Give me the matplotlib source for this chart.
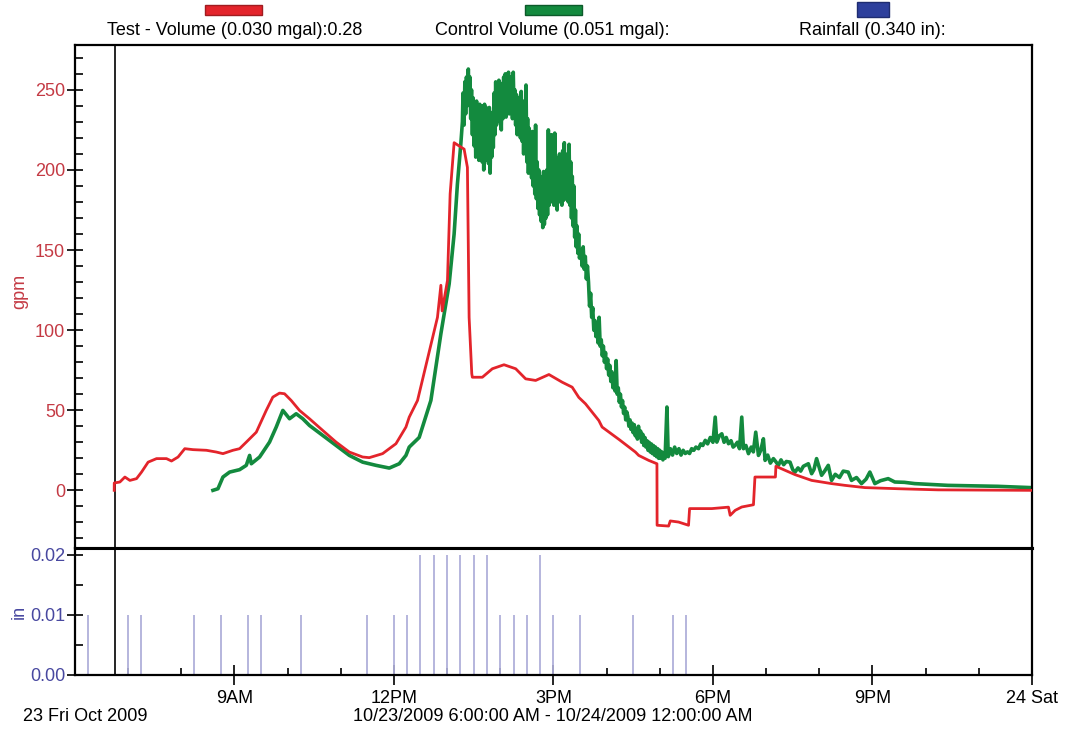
import numpy as np
import matplotlib
matplotlib.use("Agg")
import matplotlib.pyplot as plt
from matplotlib.patches import Rectangle
from matplotlib.ticker import MultipleLocator

plt.rcParams['font.family'] = ['Liberation Sans', 'DejaVu Sans']

# time in hours on 10/23/2009 (6 = 6AM, 24 = midnight)
test_t = [6.741, 6.742, 6.848, 6.942, 7.036, 7.161, 7.255, 7.379, 7.537, 7.724, 7.818, 7.942,
          8.068, 8.223, 8.475, 8.662, 8.786, 8.974, 9.099, 9.225, 9.413, 9.600, 9.724, 9.850,
          9.944, 10.069, 10.225, 10.413, 10.662, 10.914, 11.163, 11.413, 11.538, 11.788, 12.039,
          12.227, 12.289, 12.445, 12.820, 12.884, 12.908, 13.008, 13.058, 13.133, 13.227, 13.321,
          13.383, 13.415, 13.465, 13.476, 13.664, 13.852, 14.071, 14.291, 14.478, 14.666, 14.916,
          15.165, 15.353, 15.478, 15.604, 15.854, 15.916, 16.236, 16.542, 16.604, 16.792, 16.947,
          16.950, 17.166, 17.198, 17.354, 17.541, 17.561, 17.979, 18.292, 18.324, 18.418, 18.542,
          18.762, 18.790, 19.175, 19.184, 19.544, 19.856, 20.231, 20.483, 20.858, 21.483, 22.233,
          23.978]
test_v = [0.0, 4.6, 5.2, 8.3, 6.2, 7.3, 11.4, 17.6, 19.8, 19.8, 18.3, 20.8,
          26.0, 25.4, 25.0, 23.9, 22.9, 25.0, 26.0, 30.1, 36.3, 49.9, 58.2, 60.7,
          60.3, 56.1, 49.9, 44.7, 37.4, 30.1, 23.9, 20.8, 20.4, 22.9, 29.1,
          39.5, 45.7, 56.1, 108.0, 128.0, 112.0, 131.0, 185.0, 217.0, 215.0, 213.0,
          201.6, 108.0, 72.8, 70.6, 70.6, 75.9, 78.4, 75.9, 69.6, 68.6, 72.3,
          67.5, 64.4, 58.0, 54.0, 43.6, 39.5, 31.7, 23.9, 21.8, 18.7, 16.6,
          -21.8, -22.3, -19.1, -19.8, -21.8, -11.4, -11.4, -10.5, -15.6, -12.5, -10.4,
          -9.0, 8.3, 8.3, 15.0, 9.8, 6.2, 4.2, 3.1, 1.7, 1.0, 0.3,
          0.0]

control_t = [8.598, 8.692, 8.786, 8.912, 9.099, 9.225, 9.287, 9.319, 9.475, 9.662, 9.788, 9.912,
             10.038, 10.163, 10.287, 10.413, 10.662, 10.914, 11.163, 11.413, 11.664, 11.914,
             12.101, 12.227, 12.289, 12.476, 12.696, 12.884, 13.040, 13.133, 13.195, 13.259,
             13.289, 13.30, 13.32, 13.335, 13.35, 13.365, 13.38, 13.40, 13.415, 13.43, 13.445,
             13.46, 13.477, 13.49, 13.51, 13.525, 13.54, 13.555, 13.57, 13.585, 13.60, 13.615,
             13.63, 13.645, 13.66, 13.675, 13.69, 13.705, 13.72, 13.735, 13.75, 13.765, 13.78,
             13.795, 13.81, 13.825, 13.84, 13.855, 13.87, 13.885, 13.90, 13.915, 13.93, 13.945,
             13.96, 13.975, 13.99, 14.005, 14.02, 14.035, 14.05, 14.065, 14.08, 14.095, 14.11,
             14.125, 14.14, 14.155, 14.17, 14.185, 14.20, 14.215, 14.23, 14.245, 14.26, 14.275,
             14.29, 14.305, 14.32, 14.335, 14.35, 14.365, 14.38, 14.395, 14.41, 14.425, 14.44,
             14.455, 14.47, 14.485, 14.50, 14.515, 14.53, 14.545, 14.56, 14.575, 14.59, 14.605,
             14.62, 14.635, 14.65, 14.665, 14.68, 14.695, 14.71, 14.725, 14.74, 14.755, 14.77,
             14.785, 14.80, 14.815, 14.83, 14.845, 14.86, 14.875, 14.89, 14.905, 14.92, 14.935,
             14.95, 14.965, 14.98, 14.995, 15.01, 15.025, 15.04, 15.055, 15.07, 15.085, 15.10,
             15.115, 15.13, 15.145, 15.16, 15.175, 15.19, 15.205, 15.22, 15.235, 15.25, 15.265,
             15.28, 15.295, 15.31, 15.325, 15.34, 15.355, 15.37, 15.385, 15.40, 15.415, 15.43,
             15.445, 15.46, 15.475, 15.49, 15.52, 15.54, 15.56, 15.58, 15.60, 15.62, 15.64,
             15.66, 15.68, 15.70, 15.72, 15.74, 15.76, 15.78, 15.80, 15.82, 15.84, 15.86, 15.88,
             15.90, 15.92, 15.94, 15.96, 15.98, 16.00, 16.02, 16.04, 16.06, 16.08, 16.10, 16.12,
             16.14, 16.16, 16.18, 16.20, 16.22, 16.24, 16.26, 16.28, 16.30, 16.32, 16.34, 16.36,
             16.38, 16.40, 16.42, 16.44, 16.46, 16.48, 16.50, 16.52, 16.54, 16.56, 16.58, 16.60,
             16.62, 16.64, 16.66, 16.68, 16.70, 16.72, 16.74, 16.76, 16.78, 16.80, 16.82, 16.84,
             16.86, 16.88, 16.90, 16.92, 16.94, 16.96, 16.98, 17.00, 17.02, 17.04, 17.06, 17.08,
             17.10, 17.135, 17.16, 17.20, 17.24, 17.28, 17.32, 17.36, 17.40, 17.44, 17.48, 17.52,
             17.56, 17.60, 17.64, 17.68, 17.729, 17.77, 17.81, 17.856, 17.90, 17.95, 18.00, 18.043,
             18.073, 18.12, 18.167, 18.21, 18.25, 18.293, 18.34, 18.38, 18.418, 18.46, 18.50,
             18.542, 18.574, 18.62, 18.668, 18.72, 18.76, 18.805, 18.856, 18.90, 18.949, 18.981,
             19.03, 19.08, 19.137, 19.18, 19.231, 19.28, 19.33, 19.38, 19.450, 19.50, 19.544,
             19.60, 19.65, 19.70, 19.794, 19.856, 19.90, 19.949, 20.043, 20.10, 20.169, 20.231,
             20.30, 20.38, 20.45, 20.544, 20.606, 20.70, 20.794, 20.88, 20.951, 21.045, 21.15,
             21.295, 21.420, 21.60, 21.795, 22.420, 23.358, 23.978]
control_v = [0.0, 1.0, 8.3, 11.4, 12.9, 15.6, 21.8, 16.6, 20.8, 30.1, 39.5, 49.9,
             44.7, 47.8, 44.7, 40.5, 34.3, 28.1, 21.8, 17.6, 15.6, 13.9,
             16.6, 21.8, 27.0, 33.0, 56.1, 97.7, 128.9, 160.0, 191.2, 216.2,
             230, 248, 228, 255, 235, 258, 240, 263, 245, 258, 232,
             250, 222, 245, 215, 240, 208, 243, 212, 238, 206, 241,
             210, 239, 205, 240, 200, 241, 206, 239, 212, 236, 204,
             239, 198, 230, 208, 236, 214, 248, 222, 255, 228, 252,
             232, 256, 230, 250, 225, 254, 232, 258, 236, 260, 233,
             257, 238, 261, 235, 258, 240, 256, 232, 261, 236, 250,
             228, 247, 222, 245, 225, 243, 220, 249, 218, 243, 210,
             240, 212, 253, 205, 232, 198, 226, 200, 220, 195, 224,
             190, 215, 185, 228, 182, 205, 176, 200, 172, 196, 168,
             190, 164, 199, 166, 192, 170, 200, 172, 225, 178, 210,
             180, 222, 183, 205, 178, 223, 182, 208, 175, 200, 180,
             210, 183, 205, 178, 212, 181, 217, 182, 205, 185, 210,
             180, 216, 178, 205, 170, 196, 165, 190, 158, 175, 152,
             165, 148, 160, 145, 150, 140, 152, 138, 146, 132, 140,
             130, 115, 123, 108, 114, 100, 106, 96, 102, 92, 108, 90,
             94, 84, 90, 80, 86, 76, 82, 72, 78, 68, 74, 64,
             70, 62, 81, 60, 64, 55, 60, 52, 56, 48, 52, 44,
             49, 46, 40, 44, 38, 42, 36, 41, 34, 38, 32, 40,
             33, 37, 30, 35, 28, 33, 27, 31, 25, 30, 24, 29,
             23, 28, 22, 27, 21, 26, 20, 25, 20, 24, 19, 23,
             20, 52, 21, 26, 22, 27, 23, 26, 22, 25, 23, 24,
             23, 26, 25, 27, 26, 29, 28, 31.2, 29, 33, 30, 45.7,
             30.1, 34, 35.3, 30, 33, 29.1, 31, 27, 28.1, 30, 26,
             45.7, 26.0, 28, 22.9, 27, 24, 36.3, 21.8, 25, 32.2, 18.7,
             22, 17, 19.8, 18, 15.6, 19, 16, 18, 17.6, 13, 11.4,
             14, 12, 15, 16.6, 10.4, 13, 19.8, 9.4, 12, 15.6, 6.2,
             10, 8, 12, 11.4, 6.2, 8, 4.2, 7, 11.4, 4.2, 6,
             7.3, 5.2, 5, 4.2, 3.1, 2.5, 1.7]

rain_t = [6.25, 7.0, 7.25, 8.25, 8.75, 9.25, 9.5, 10.25, 11.5, 12.0, 12.25, 12.5, 12.75,
          13.0, 13.25, 13.5, 13.75, 14.0, 14.25, 14.5, 14.75, 15.0, 15.5, 16.5, 17.25, 17.5]
rain_v = [0.01, 0.01, 0.01, 0.01, 0.01, 0.01, 0.01, 0.01, 0.01, 0.01, 0.01, 0.02, 0.02,
          0.02, 0.02, 0.02, 0.02, 0.01, 0.01, 0.01, 0.02, 0.01, 0.01, 0.01, 0.01, 0.01]

cursor_t = 6.754
xticks = [9, 12, 15, 18, 21, 24]
xtick_labels = ['9AM', '12PM', '3PM', '6PM', '9PM', '24 Sat']
legend_labels = ['Test - Volume (0.030 mgal):0.28', 'Control Volume (0.051 mgal):', 'Rainfall (0.340 in):']

RED = '#e3242b'
GREEN = '#138a3e'
BLUE = '#2d3f9c'
RED_TXT = '#c43a44'
BLUE_TXT = '#4848a0'
FS = 13

fig = plt.figure(figsize=(10.67, 7.34), dpi=100)
ax = fig.add_axes([0.0701, 0.2534, 0.8971, 0.6853])
ax2 = fig.add_axes([0.0701, 0.0804, 0.8971, 0.1730], sharex=ax)

ax.plot(control_t, control_v, color=GREEN, lw=2.6, zorder=2)
ax.plot(test_t, test_v, color=RED, lw=2.0, zorder=3)
ax.axvline(cursor_t, color='black', lw=1.2)
ax.set_ylim(-36, 278)
ax.set_xlim(6, 24)
ax.yaxis.set_major_locator(MultipleLocator(50))
ax.yaxis.set_minor_locator(MultipleLocator(10))
ax.tick_params(axis='y', which='major', direction='inout', length=12, width=1.2,
               labelsize=FS, labelcolor=RED_TXT, pad=1)
ax.tick_params(axis='y', which='minor', direction='in', length=6, width=1.2)
ax.tick_params(axis='x', which='both', bottom=False, labelbottom=False)
ax.set_ylabel('gpm', color=RED_TXT, fontsize=FS)
ax.yaxis.set_label_coords(-0.049, 0.51)

ax2.vlines(rain_t, 0, rain_v, color='#b0b0da', lw=1.3)
ax2.axvline(cursor_t, color='black', lw=1.2)
ax2.set_ylim(0, 0.0211)
ax2.set_yticks([0.0, 0.01, 0.02])
ax2.set_yticklabels(['0.00', '0.01', '0.02'])
ax2.yaxis.set_minor_locator(MultipleLocator(0.005))
ax2.tick_params(axis='y', which='major', direction='inout', length=12, width=1.2,
                labelsize=FS, labelcolor=BLUE_TXT, pad=1)
ax2.tick_params(axis='y', which='minor', direction='in', length=6, width=1.2)
ax2.set_xticks(xticks)
ax2.set_xticklabels(xtick_labels)
ax2.xaxis.set_minor_locator(MultipleLocator(1))
ax2.tick_params(axis='x', which='major', direction='inout', length=14, width=1.2, labelsize=FS, pad=4)
ax2.tick_params(axis='x', which='minor', direction='in', length=5, width=1.2)
ax2.set_ylabel('in', color=BLUE_TXT, fontsize=FS)
ax2.yaxis.set_label_coords(-0.049, 0.5)

for a in (ax, ax2):
    for s in a.spines.values():
        s.set_linewidth(1.6)
ax.spines['bottom'].set_linewidth(2.2)
ax2.spines['top'].set_linewidth(2.2)

fig.text(0.0215, 0.0232, '23 Fri Oct 2009', fontsize=FS, va='center', ha='left')
fig.text(0.518, 0.0232, '10/23/2009 6:00:00 AM - 10/24/2009 12:00:00 AM', fontsize=FS, va='center', ha='center')

# legend header
swatches = [(0.1921, 0.9796, 0.0534, 0.0136, RED, '#a01c20'),
            (0.4920, 0.9796, 0.0534, 0.0136, GREEN, '#0c5a2a'),
            (0.8032, 0.9768, 0.0300, 0.0204, BLUE, '#1e2c70')]
centers = [0.2202, 0.5173, 0.8173]
for (x0, y0, w, h, fc, ec), cx, lab in zip(swatches, centers, legend_labels):
    fig.patches.append(Rectangle((x0, y0), w, h, transform=fig.transFigure,
                                 facecolor=fc, edgecolor=ec, lw=1))
    fig.text(cx, 0.959, lab, fontsize=FS, ha='center', va='center')

fig.savefig('out.png', dpi=100)
